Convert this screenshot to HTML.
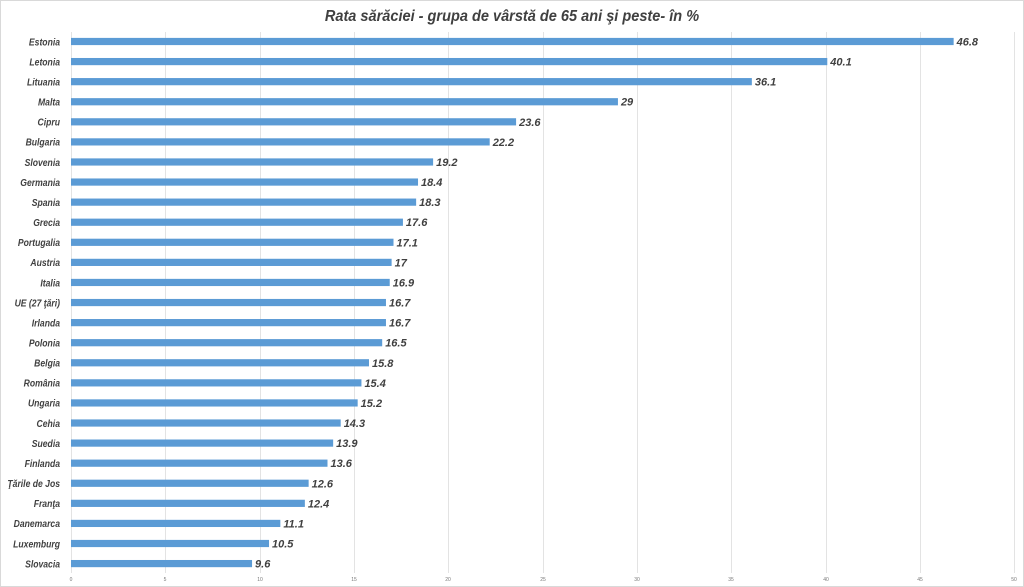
<!DOCTYPE html>
<html><head><meta charset="utf-8"><style>
html,body{margin:0;padding:0;background:#fff;}
svg{display:block;font-family:"Liberation Sans",sans-serif;}
.l{font-size:10.5px;font-weight:bold;font-style:italic;fill:#404040;text-anchor:end;}
.v{font-size:11px;font-weight:bold;font-style:italic;fill:#404040;}
.t{font-size:5px;fill:#777;text-anchor:middle;}
</style></head><body>
<svg width="1024" height="587" viewBox="0 0 1024 587">
<rect x="0.5" y="0.5" width="1023" height="586" fill="#fff" stroke="#d9d9d9"/>
<g transform="translate(512,0) scale(0.91,1)"><text x="0" y="21" text-anchor="middle" font-size="16" font-weight="bold" font-style="italic" fill="#404040">Rata sărăciei - grupa de vârstă de 65 ani şi peste- în %</text></g>
<g stroke="#e3e3e3" stroke-width="1">
<line x1="71.5" y1="32" x2="71.5" y2="573"/><line x1="165.5" y1="32" x2="165.5" y2="573"/><line x1="260.5" y1="32" x2="260.5" y2="573"/><line x1="354.5" y1="32" x2="354.5" y2="573"/><line x1="448.5" y1="32" x2="448.5" y2="573"/><line x1="543.5" y1="32" x2="543.5" y2="573"/><line x1="637.5" y1="32" x2="637.5" y2="573"/><line x1="731.5" y1="32" x2="731.5" y2="573"/><line x1="826.5" y1="32" x2="826.5" y2="573"/><line x1="920.5" y1="32" x2="920.5" y2="573"/><line x1="1014.5" y1="32" x2="1014.5" y2="573"/>
</g>
<g>
<text class="t" x="71" y="581">0</text><text class="t" x="165" y="581">5</text><text class="t" x="260" y="581">10</text><text class="t" x="354" y="581">15</text><text class="t" x="448" y="581">20</text><text class="t" x="543" y="581">25</text><text class="t" x="637" y="581">30</text><text class="t" x="731" y="581">35</text><text class="t" x="826" y="581">40</text><text class="t" x="920" y="581">45</text><text class="t" x="1014" y="581">50</text>
</g>
<g id="bars"></g>
</svg>
<script>
var d=[["Estonia",46.8],["Letonia",40.1],["Lituania",36.1],["Malta",29],["Cipru",23.6],["Bulgaria",22.2],["Slovenia",19.2],["Germania",18.4],["Spania",18.3],["Grecia",17.6],["Portugalia",17.1],["Austria",17],["Italia",16.9],["UE (27 ţări)",16.7],["Irlanda",16.7],["Polonia",16.5],["Belgia",15.8],["România",15.4],["Ungaria",15.2],["Cehia",14.3],["Suedia",13.9],["Finlanda",13.6],["Ţările de Jos",12.6],["Franţa",12.4],["Danemarca",11.1],["Luxemburg",10.5],["Slovacia",9.6]];
var g=document.getElementById("bars"),s="";
for(var i=0;i<d.length;i++){var y=41.5+i*20.08,w=d[i][1]*18.86;
s+='<rect x="71" y="'+(y-3.6)+'" width="'+w+'" height="7.2" fill="#5b9bd5"/>';
s+='<g transform="translate(60,'+(y+3.8)+') scale(0.82,1)"><text class="l" x="0" y="0">'+d[i][0]+'</text></g>';
s+='<text class="v" x="'+(71+w+3)+'" y="'+(y+4)+'">'+d[i][1]+'</text>';}
g.innerHTML=s;
</script>
</body></html>
